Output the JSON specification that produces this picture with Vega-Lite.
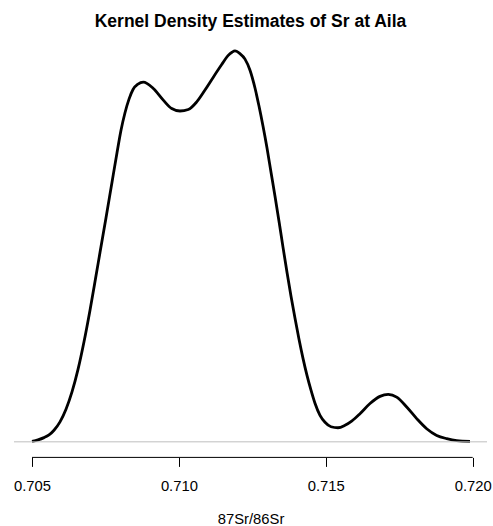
{
  "$schema": "https://vega.github.io/schema/vega-lite/v6.json",
  "width": 473,
  "height": 422,
  "autosize": {"type": "none"},
  "padding": {"left": 14, "top": 35.4, "right": 6, "bottom": 68.6},
  "title": {
    "text": "Kernel Density Estimates of Sr at Aila",
    "font": "Liberation Sans",
    "fontSize": 17.5,
    "fontWeight": "bold",
    "color": "#000000",
    "anchor": "middle",
    "frame": "group",
    "baseline": "alphabetic",
    "offset": 8.7,
    "dy": 18
  },
  "config": {"view": {"stroke": null}, "font": "Liberation Sans"},
  "layer": [
    {
      "data": {"values": [
        {"sr": 0.705000, "density": 0.2},
        {"sr": 0.705204, "density": 0.8},
        {"sr": 0.705408, "density": 1.7},
        {"sr": 0.705579, "density": 2.8},
        {"sr": 0.705749, "density": 4.7},
        {"sr": 0.705953, "density": 8.1},
        {"sr": 0.706157, "density": 13.2},
        {"sr": 0.706361, "density": 20.2},
        {"sr": 0.706566, "density": 29.3},
        {"sr": 0.706770, "density": 40.5},
        {"sr": 0.706974, "density": 53.3},
        {"sr": 0.707178, "density": 67.2},
        {"sr": 0.707314, "density": 76.6},
        {"sr": 0.707519, "density": 90.7},
        {"sr": 0.707723, "density": 105.1},
        {"sr": 0.707893, "density": 117.0},
        {"sr": 0.708029, "density": 126.1},
        {"sr": 0.708165, "density": 133.2},
        {"sr": 0.708302, "density": 138.7},
        {"sr": 0.708438, "density": 142.6},
        {"sr": 0.708608, "density": 144.8},
        {"sr": 0.708788, "density": 145.6},
        {"sr": 0.709129, "density": 143.0},
        {"sr": 0.709469, "density": 138.3},
        {"sr": 0.709755, "density": 134.9},
        {"sr": 0.710037, "density": 133.9},
        {"sr": 0.710320, "density": 134.5},
        {"sr": 0.710606, "density": 137.6},
        {"sr": 0.710888, "density": 142.4},
        {"sr": 0.711171, "density": 147.6},
        {"sr": 0.711457, "density": 152.7},
        {"sr": 0.711671, "density": 156.3},
        {"sr": 0.711808, "density": 157.7},
        {"sr": 0.711909, "density": 158.2},
        {"sr": 0.712079, "density": 157.1},
        {"sr": 0.712250, "density": 154.9},
        {"sr": 0.712420, "density": 150.4},
        {"sr": 0.712590, "density": 143.2},
        {"sr": 0.712726, "density": 135.9},
        {"sr": 0.712862, "density": 127.8},
        {"sr": 0.712999, "density": 118.9},
        {"sr": 0.713135, "density": 109.1},
        {"sr": 0.713271, "density": 99.4},
        {"sr": 0.713407, "density": 89.3},
        {"sr": 0.713543, "density": 78.8},
        {"sr": 0.713679, "density": 68.6},
        {"sr": 0.713816, "density": 58.9},
        {"sr": 0.713952, "density": 50.0},
        {"sr": 0.714088, "density": 41.5},
        {"sr": 0.714224, "density": 33.8},
        {"sr": 0.714360, "density": 26.9},
        {"sr": 0.714496, "density": 20.9},
        {"sr": 0.714632, "density": 15.6},
        {"sr": 0.714803, "density": 10.7},
        {"sr": 0.714973, "density": 7.9},
        {"sr": 0.715177, "density": 6.1},
        {"sr": 0.715415, "density": 5.7},
        {"sr": 0.715653, "density": 6.7},
        {"sr": 0.715892, "density": 8.5},
        {"sr": 0.716164, "density": 11.4},
        {"sr": 0.716505, "density": 15.5},
        {"sr": 0.716845, "density": 18.4},
        {"sr": 0.717127, "density": 19.2},
        {"sr": 0.717413, "density": 18.1},
        {"sr": 0.717754, "density": 14.1},
        {"sr": 0.718094, "density": 9.4},
        {"sr": 0.718434, "density": 5.3},
        {"sr": 0.718775, "density": 2.6},
        {"sr": 0.719115, "density": 1.3},
        {"sr": 0.719455, "density": 0.5},
        {"sr": 0.719908, "density": 0.2}
      ]},
      "mark": {"type": "line", "color": "#000000", "strokeWidth": 2.8, "interpolate": "monotone", "strokeJoin": "round", "strokeCap": "butt"},
      "encoding": {
        "x": {
          "field": "sr",
          "type": "quantitative",
          "scale": {"domain": [0.704387, 0.720487], "nice": false, "zero": false},
          "axis": {
            "title": "87Sr/86Sr",
            "values": [0.705, 0.71, 0.715, 0.72],
            "format": ".3f",
            "domain": false,
            "grid": false,
            "ticks": true,
            "tickSize": 9,
            "tickWidth": 1,
            "tickColor": "#000000",
            "labelFont": "Liberation Sans",
            "labelFontSize": 14.8,
            "labelColor": "#000000",
            "labelBaseline": "alphabetic",
            "labelPadding": 24.4,
            "labelFlush": false,
            "labelOverlap": false,
            "titleFont": "Liberation Sans",
            "titleFontSize": 14.8,
            "titleFontWeight": "normal",
            "titleColor": "#000000",
            "titleBaseline": "alphabetic",
            "titleY": 66
          }
        },
        "y": {
          "field": "density",
          "type": "quantitative",
          "scale": {"domain": [-6.3, 164.5], "nice": false, "zero": false},
          "axis": null
        }
      }
    },
    {
      "data": {"values": [{}]},
      "mark": {"type": "rule", "color": "#BEBEBE", "strokeWidth": 1},
      "encoding": {
        "y": {"datum": 0, "type": "quantitative"}
      }
    },
    {
      "data": {"values": [{}]},
      "mark": {"type": "rule", "color": "#000000", "strokeWidth": 1},
      "encoding": {
        "x": {"datum": 0.705, "type": "quantitative"},
        "x2": {"datum": 0.72},
        "y": {"datum": -6.3, "type": "quantitative"}
      }
    }
  ]
}
